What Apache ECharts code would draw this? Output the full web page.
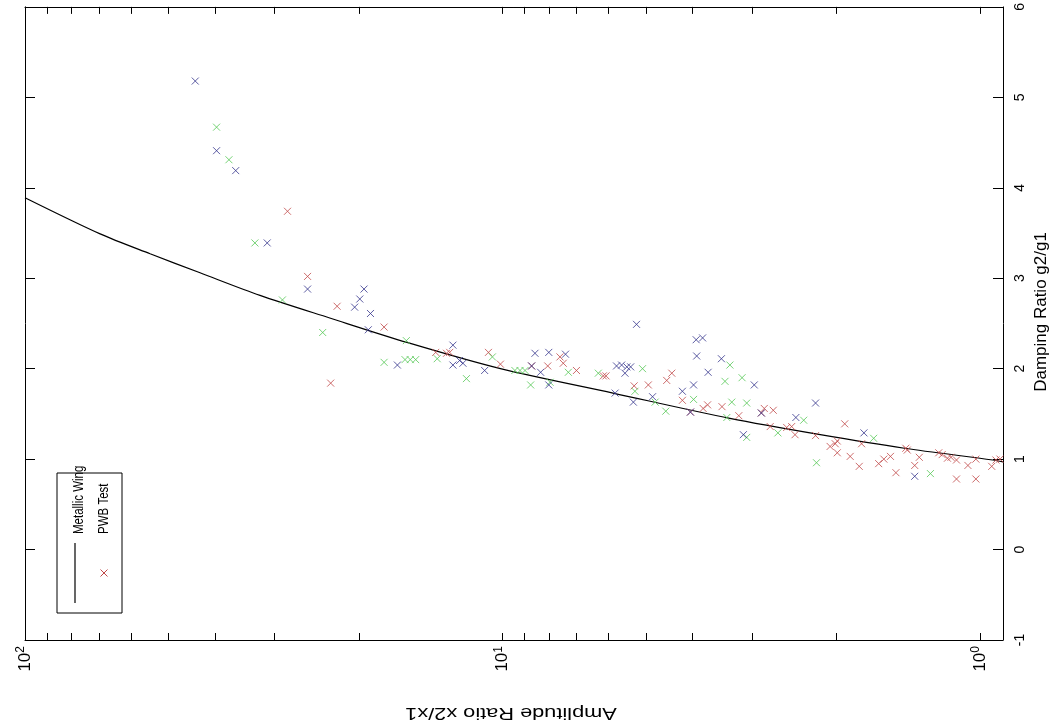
<!DOCTYPE html>
<html>
<head>
<meta charset="utf-8">
<script src="https://cdn.jsdelivr.net/npm/echarts@6.0.0/dist/echarts.min.js"></script>
<style>
  html, body { margin: 0; padding: 0; background: #fff; }
  #chart { width: 1061px; height: 728px; }
</style>
</head>
<body>
<div id="chart"></div>
<script>
// amplitude ratio (x2/x1) and damping ratio (g2/g1)
const lineAmp = [100, 69.6, 54.7, 43.0, 32.2, 23.0, 15.85, 10.1, 5.87, 3.34, 2.16, 1.44, 0.94, 0.895]
const lineDamp = [3.89, 3.49, 3.27, 3.06, 2.81, 2.56, 2.29, 2.00, 1.73, 1.45, 1.27, 1.12, 0.99, 0.97]

const redAmp = [28.2, 25.6, 22.2, 17.7, 22.9, 13.8, 13.1, 12.9, 10.7, 10.1, 8.69, 8.04, 7.58, 7.46, 7.0,
  6.15, 6.07, 5.30, 4.95, 4.53, 4.42, 4.20, 4.04, 3.80, 3.72, 3.47, 3.20, 2.87, 2.83, 2.71, 2.75, 2.54,
  2.48, 2.44, 2.21, 1.92, 2.06, 2.01, 1.99, 1.99, 1.87, 1.79, 1.77, 1.63, 1.59, 1.54, 1.50, 1.43, 1.42,
  1.37, 1.34, 1.22, 1.20, 1.17, 1.15, 1.12, 1.06, 1.02, 1.12, 1.02, 0.945, 0.926, 0.908]
const redDamp = [3.74, 3.02, 2.69, 2.46, 1.84, 2.18, 2.17, 2.18, 2.18, 2.05, 2.03, 2.03, 2.13, 2.06, 1.98,
  1.92, 1.92, 1.81, 1.82, 1.87, 1.95, 1.65, 1.52, 1.56, 1.60, 1.58, 1.48, 1.51, 1.56, 1.54, 1.36, 1.35,
  1.36, 1.27, 1.26, 1.39, 1.14, 1.17, 1.20, 1.07, 1.03, 0.92, 1.17, 0.95, 1.00, 1.03, 0.85, 1.12, 1.10,
  0.93, 1.02, 1.07, 1.05, 1.01, 1.02, 0.99, 0.93, 1.00, 0.78, 0.78, 0.92, 0.99, 1.00]

const greenAmp = [39.7, 37.4, 33.0, 28.9, 23.8, 15.9, 17.7, 16.0, 15.6, 15.2, 13.7, 11.9, 10.5, 9.42, 9.19,
  8.97, 8.73, 7.95, 7.28, 6.30, 5.09, 5.28, 4.79, 4.55, 3.98, 3.34, 3.42, 3.15, 3.31, 3.08, 3.39, 3.08,
  2.65, 2.34, 2.20, 1.67, 1.27]
const greenDamp = [4.67, 4.31, 3.39, 2.76, 2.40, 2.31, 2.07, 2.10, 2.10, 2.10, 2.11, 1.89, 2.13, 1.98, 1.98,
  1.98, 1.82, 1.85, 1.96, 1.95, 2.00, 1.75, 1.63, 1.53, 1.66, 2.04, 1.86, 1.90, 1.63, 1.62, 1.46, 1.24,
  1.29, 1.43, 0.96, 1.23, 0.84]

const blueAmp = [44.0, 39.7, 36.2, 31.1, 25.6, 19.5, 19.9, 20.4, 18.9, 19.1, 16.6, 12.7, 12.7, 12.3, 12.1,
  10.9, 8.55, 8.0, 8.32, 8.0, 7.38, 5.24, 5.77, 5.63, 5.49, 5.39, 5.54, 5.81, 5.32, 4.85, 4.20, 3.98,
  3.93, 3.81, 3.92, 3.71, 3.48, 2.97, 3.13, 2.43, 2.21, 1.75, 1.37, 4.04, 2.87, 8.69]
const blueDamp = [5.18, 4.41, 4.19, 3.39, 2.88, 2.88, 2.77, 2.68, 2.61, 2.43, 2.04, 2.26, 2.04, 2.09, 2.06,
  1.98, 2.17, 2.18, 1.96, 1.82, 2.16, 2.49, 2.03, 2.04, 2.02, 2.02, 1.95, 1.73, 1.63, 1.69, 1.75, 1.82,
  2.32, 2.34, 2.14, 1.96, 2.11, 1.82, 1.27, 1.46, 1.62, 1.29, 0.81, 1.52, 1.51, 2.03]

const xTicks = [1, 2, 3, 4, 5, 6, 7, 8, 9, 10, 20, 30, 40, 50, 60, 70, 80, 90, 100]
const xLabels = [1, 10, 100]

const font = 'Liberation Sans'
const cross = 'path://M0 0L10 10M10 0L0 10'

const pairs = (xs, ys) => xs.map((x, i) => [x, ys[i]])

const scatter = (name, xs, ys, color) => ({
  name: name,
  type: 'scatter',
  symbol: cross,
  symbolSize: 7,
  itemStyle: { color: 'rgba(0,0,0,0)', borderColor: color, borderWidth: 1 },
  data: pairs(xs, ys),
  silent: true,
  z: 3,
})

const xAxis = (position, axisLabel) => ({
  type: 'log',
  logBase: 10,
  position: position,
  min: 0.895,
  max: 100,
  inverse: true,
  splitLine: { show: false },
  axisLine: { onZero: false, lineStyle: { color: '#000', width: 1 } },
  axisTick: { show: true, inside: true, length: 7, customValues: xTicks.slice(), lineStyle: { color: '#000' } },
  axisLabel: axisLabel,
})

const yAxis = (position, axisLabel) => ({
  type: 'value',
  position: position,
  min: -1,
  max: 6,
  interval: 1,
  splitLine: { show: false },
  axisLine: { onZero: false, lineStyle: { color: '#000', width: 1 } },
  axisTick: { inside: true, length: 10, lineStyle: { color: '#000' } },
  axisLabel: axisLabel,
})

// the page is printed sideways, so text is turned (and a bit stretched)
const sideText = (text, x, y, rotation, size, align, extra) => Object.assign({
  type: 'text',
  x: x, y: y, rotation: rotation,
  style: { text: text, fontFamily: font, fontSize: size, fill: '#000', align: align, verticalAlign: 'middle' },
  z: 11,
}, extra)

const chart = echarts.init(document.getElementById('chart'))
chart.setOption({
  animation: false,
  backgroundColor: '#fff',
  grid: { left: 25, right: 58, top: 5, bottom: 88 },
  xAxis: [
    xAxis('bottom', {
      customValues: xLabels,
      rotate: 90,
      margin: 6,
      formatter: v => '{b|10}{s|' + Math.round(Math.log10(v)) + '}',
      rich: {
        b: { fontFamily: font, fontSize: 17, color: '#000', lineHeight: 20 },
        s: { fontFamily: font, fontSize: 12, color: '#000', verticalAlign: 'top', lineHeight: 20 },
      },
    }),
    xAxis('top', { show: false }),
  ],
  yAxis: [
    yAxis('right', { rotate: 90, margin: 10, fontFamily: font, fontSize: 14, color: '#000' }),
    yAxis('left', { show: false }),
  ],
  series: [
    {
      name: 'Metallic Wing',
      type: 'line',
      smooth: 0.3,
      showSymbol: false,
      lineStyle: { color: '#000', width: 1.2 },
      data: pairs(lineAmp, lineDamp),
      silent: true,
      z: 2,
    },
    scatter('PWB Test', redAmp, redDamp, '#c04848'),
    scatter('PWB Test green', greenAmp, greenDamp, '#55c855'),
    scatter('PWB Test blue', blueAmp, blueDamp, '#34348c'),
  ],
  graphic: [
    sideText('Amplitude Ratio x2/x1', 511, 713, Math.PI, 17, 'center', { scaleX: 1.28 }),
    sideText('Damping Ratio g2/g1', 1041, 312, Math.PI / 2, 17, 'center'),
    {
      type: 'rect',
      shape: { x: 57, y: 473, width: 65, height: 140 },
      style: { fill: '#fff', stroke: '#000', lineWidth: 1 },
      z: 10,
    },
    {
      type: 'line',
      shape: { x1: 75, y1: 603, x2: 75, y2: 543 },
      style: { stroke: '#000', lineWidth: 1.2 },
      z: 11,
    },
    sideText('Metallic Wing', 79, 534, Math.PI / 2, 11.5, 'left', { scaleY: 1.25 }),
    sideText('PWB Test', 104, 534, Math.PI / 2, 11.5, 'left', { scaleY: 1.25 }),
    {
      type: 'line',
      shape: { x1: 100.5, y1: 569.5, x2: 107.5, y2: 576.5 },
      style: { stroke: '#c04848', lineWidth: 1 },
      z: 11,
    },
    {
      type: 'line',
      shape: { x1: 107.5, y1: 569.5, x2: 100.5, y2: 576.5 },
      style: { stroke: '#c04848', lineWidth: 1 },
      z: 11,
    },
  ],
})
</script>
</body>
</html>
